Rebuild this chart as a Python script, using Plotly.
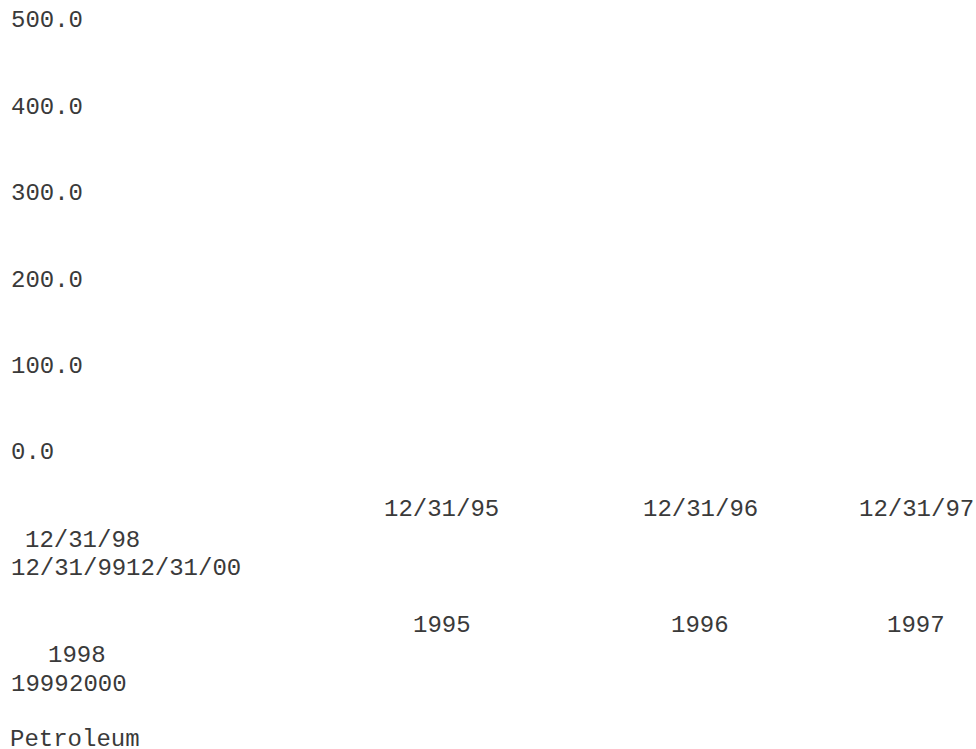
import plotly.graph_objects as go

# ---- data ----
y_ticks = [0, 100, 200, 300, 400, 500]
date_labels = ["12/31/95", "12/31/96", "12/31/97", "12/31/98", "12/31/99", "12/31/00"]
year_labels = ["1995", "1996", "1997", "1998", "1999", "2000"]
series_name = "Petroleum"

# ---- layout (pixel positions of the wrapped label rows) ----
W, H = 976, 749
FONT = dict(family="Courier New, Liberation Mono, monospace", size=24, color="#3a3a3a")
date_pos = [(384, 510), (643, 510), (859, 510), (25, 540), (11, 568), (126, 568)]
year_pos = [(413, 625), (671, 625), (887, 625), (48, 655), (11, 684), (69, 684)]
legend_pos = (10, 739)
Y0_PX, Y500_PX = 451, 19          # pixel rows of the 0.0 and 500.0 labels
Y_RANGE = [-25, 520]


def px(x):
    return x / W


def py(y):
    return 1 - y / H


scale = (Y0_PX - Y500_PX) / (y_ticks[-1] - y_ticks[0])
dom_bottom_px = Y0_PX + (y_ticks[0] - Y_RANGE[0]) * scale
dom_top_px = Y500_PX - (Y_RANGE[1] - y_ticks[-1]) * scale

fig = go.Figure()
fig.add_trace(go.Scatter(x=[], y=[], name=series_name, mode="lines", showlegend=False))

annotations = []
for lab, (x, y) in zip(date_labels, date_pos):
    annotations.append(dict(text=lab, x=px(x - 2), y=py(y), xref="paper", yref="paper",
                            xanchor="left", yanchor="middle", showarrow=False, font=FONT))
for lab, (x, y) in zip(year_labels, year_pos):
    annotations.append(dict(text=lab, x=px(x - 2), y=py(y), xref="paper", yref="paper",
                            xanchor="left", yanchor="middle", showarrow=False, font=FONT))
annotations.append(dict(text=series_name, x=px(legend_pos[0] - 2), y=py(legend_pos[1]),
                        xref="paper", yref="paper", xanchor="left", yanchor="middle",
                        showarrow=False, font=FONT))

fig.update_layout(
    width=W, height=H,
    margin=dict(l=0, r=0, t=0, b=0),
    paper_bgcolor="white", plot_bgcolor="white",
    showlegend=False,
    xaxis=dict(visible=False, domain=[px(8), 1], range=[0, 1], fixedrange=True),
    yaxis=dict(
        domain=[py(dom_bottom_px), py(dom_top_px)],
        range=Y_RANGE,
        tickvals=y_ticks,
        ticktext=[f"{v:.1f}" for v in y_ticks],
        ticklabelposition="inside",
        ticks="", showgrid=False, zeroline=False, showline=False,
        tickfont=FONT, automargin=False, fixedrange=True,
    ),
    annotations=annotations,
)

fig.write_html("out.html", config={"displayModeBar": False},
               post_script="document.body.style.margin='0';")
